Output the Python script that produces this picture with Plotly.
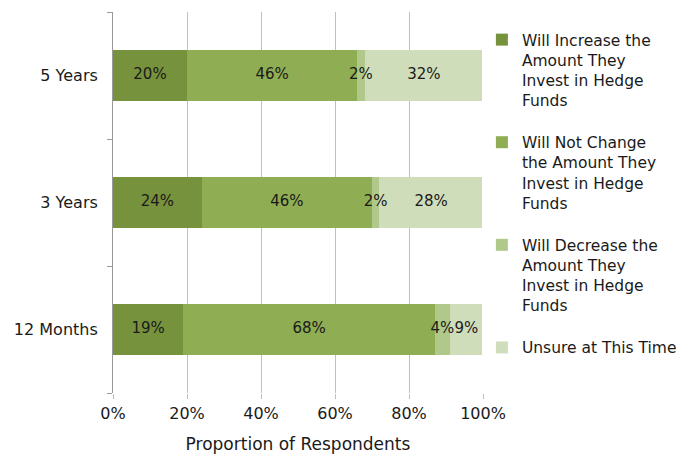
import plotly.graph_objects as go

categories = ["12 Months", "3 Years", "5 Years"]
series_names = [
    "Will Increase the<br>Amount They<br>Invest in Hedge<br>Funds",
    "Will Not Change<br>the Amount They<br>Invest in Hedge<br>Funds",
    "Will Decrease the<br>Amount They<br>Invest in Hedge<br>Funds",
    "Unsure at This Time",
]
increase = [19, 24, 20]
no_change = [68, 46, 46]
decrease = [4, 2, 2]
unsure = [9, 28, 32]
colors = ["#77923C", "#8FAD52", "#B0C98A", "#D0DDBA"]

all_series = [increase, no_change, decrease, unsure]

fig = go.Figure()
for i, (name, vals, col) in enumerate(zip(series_names, all_series, colors)):
    fig.add_trace(go.Bar(
        y=categories, x=vals, name=name, orientation="h",
        marker=dict(color=col, line=dict(width=0)),
        legendgroup=f"g{i}", hoverinfo="skip",
    ))

# data labels on top of all bars (centred in each segment)
base = [0] * len(categories)
lx, ly, lt = [], [], []
for vals in all_series:
    for j, v in enumerate(vals):
        lx.append(base[j] + v / 2)
        ly.append(categories[j])
        lt.append(f"{v}%")
        base[j] += v
fig.add_trace(go.Scatter(
    x=lx, y=ly, text=lt, mode="text", textposition="middle center",
    textfont=dict(size=15, color="#1a1a1a"), showlegend=False, hoverinfo="skip",
))

font_family = "'DejaVu Sans', sans-serif"
fig.update_layout(
    barmode="stack", bargap=0.6,
    width=678, height=454,
    margin=dict(l=113, r=195, t=12, b=61, autoexpand=False),
    paper_bgcolor="white", plot_bgcolor="white",
    font=dict(family=font_family, size=16, color="#1a1a1a"),
    xaxis=dict(
        range=[0, 100], tickvals=[0, 20, 40, 60, 80, 100],
        ticktext=["0%", "20%", "40%", "60%", "80%", "100%"],
        showgrid=True, gridcolor="#BFBFBF", gridwidth=1,
        zeroline=False, showline=False,
        ticks="outside", ticklen=5, tickcolor="#BFBFBF",
        ticklabelstandoff=1,
        title=dict(text="Proportion of Respondents", font=dict(size=17), standoff=15),
        tickfont=dict(size=16),
    ),
    yaxis=dict(
        showline=True, linecolor="#999999", linewidth=1,
        ticks="outside", tickson="boundaries", ticklen=5, tickcolor="#999999",
        ticklabelstandoff=11,
        tickfont=dict(size=16), showgrid=False,
    ),
    legend=dict(
        x=0.997, y=0.971, xanchor="left", yanchor="top",
        font=dict(size=15.5), tracegroupgap=19, valign="top",
        traceorder="grouped", itemwidth=30,
    ),
)
fig.write_html("out.html", config={"displayModeBar": False},
               post_script="document.body.style.margin='0';")
